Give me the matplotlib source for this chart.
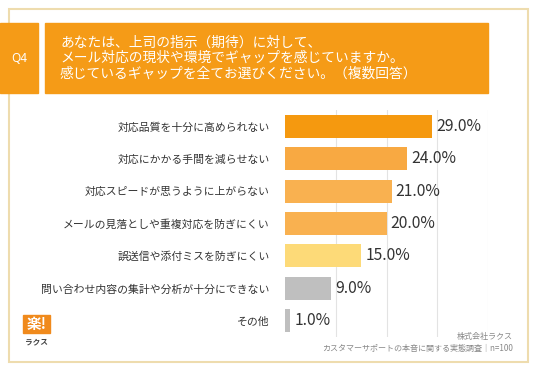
import matplotlib.pyplot as plt
from matplotlib.patches import Rectangle

plt.rcParams['font.family'] = ['Noto Sans CJK JP', 'DejaVu Sans']

# data
categories = [
    '対応品質を十分に高められない',
    '対応にかかる手間を減らせない',
    '対応スピードが思うように上がらない',
    'メールの見落としや重複対応を防ぎにくい',
    '誤送信や添付ミスを防ぎにくい',
    '問い合わせ内容の集計や分析が十分にできない',
    'その他',
]
values = [29.0, 24.0, 21.0, 20.0, 15.0, 9.0, 1.0]
bar_colors = ['#F5990F', '#F8A942', '#F9B150', '#F9B150', '#FDDA78', '#BFBFBF', '#BFBFBF']
grid_ticks = [10, 20, 30, 40]

question_no = 'Q4'
question = ('あなたは、上司の指示（期待）に対して、\n'
            'メール対応の現状や環境でギャップを感じていますか。\n'
            '感じているギャップを全てお選びください。（複数回答）')
source_lines = ['株式会社ラクス', 'カスタマーサポートの本音に関する実態調査｜n=100']

W, H = 536, 371
fig = plt.figure(figsize=(W / 100, H / 100), dpi=100)
fig.patch.set_facecolor('white')

# background layer in pixel coordinates
bg = fig.add_axes([0, 0, 1, 1])
bg.set_xlim(0, W)
bg.set_ylim(H, 0)
bg.axis('off')

orange = '#F59B17'
bg.add_patch(Rectangle((9, 9), 519, 353, fill=False, ec='#EEDCAE', lw=1.5))
bg.add_patch(Rectangle((0, 23), 38, 70, color=orange))
bg.add_patch(Rectangle((45, 23), 443, 70, color=orange))
bg.text(19, 58, question_no, color='white', fontsize=8.5, ha='center', va='center',
        family=['Noto Sans', 'DejaVu Sans'])
bg.text(60, 58, question, color='white', fontsize=9.9, ha='left', va='center',
        linespacing=1.12)

# logo
bg.add_patch(Rectangle((23, 315), 27, 18, color='#F08A1C'))
bg.text(36.5, 324.5, '楽!', color='white', fontsize=10.5, fontweight='bold',
        ha='center', va='center')
bg.text(36.5, 342, 'ラクス', color='#444444', fontsize=5.5, fontweight='bold',
        ha='center', va='center')

bg.text(513, 337, source_lines[0], color='#888888', fontsize=5.8, ha='right', va='center')
bg.text(513, 348, source_lines[1], color='#888888', fontsize=5.8, ha='right', va='center')

# bar chart
left, right, top, bottom = 285, 488, 110, 337
ax = fig.add_axes([left / W, 1 - bottom / H, (right - left) / W, (bottom - top) / H])
ax.set_facecolor('none')
pos = list(range(len(categories)))
bars = ax.barh(pos, values, height=0.71, color=bar_colors, zorder=3)
ax.set_xlim(0, 40)
ax.set_ylim(len(categories) - 0.5, -0.5)
ax.set_xticks(grid_ticks)
ax.xaxis.grid(True, color='#E3E3E3', lw=0.8, zorder=0)
ax.tick_params(axis='x', length=0, labelbottom=False)
ax.set_yticks(pos)
ax.set_yticklabels(categories, fontsize=7.8, color='#333333')
ax.tick_params(axis='y', length=0, pad=11)
for s in ax.spines.values():
    s.set_visible(False)
ax.bar_label(bars, labels=['%.1f%%' % v for v in values], padding=3,
             fontsize=11.3, color='#333333')

fig.savefig('out.png', dpi=100)
